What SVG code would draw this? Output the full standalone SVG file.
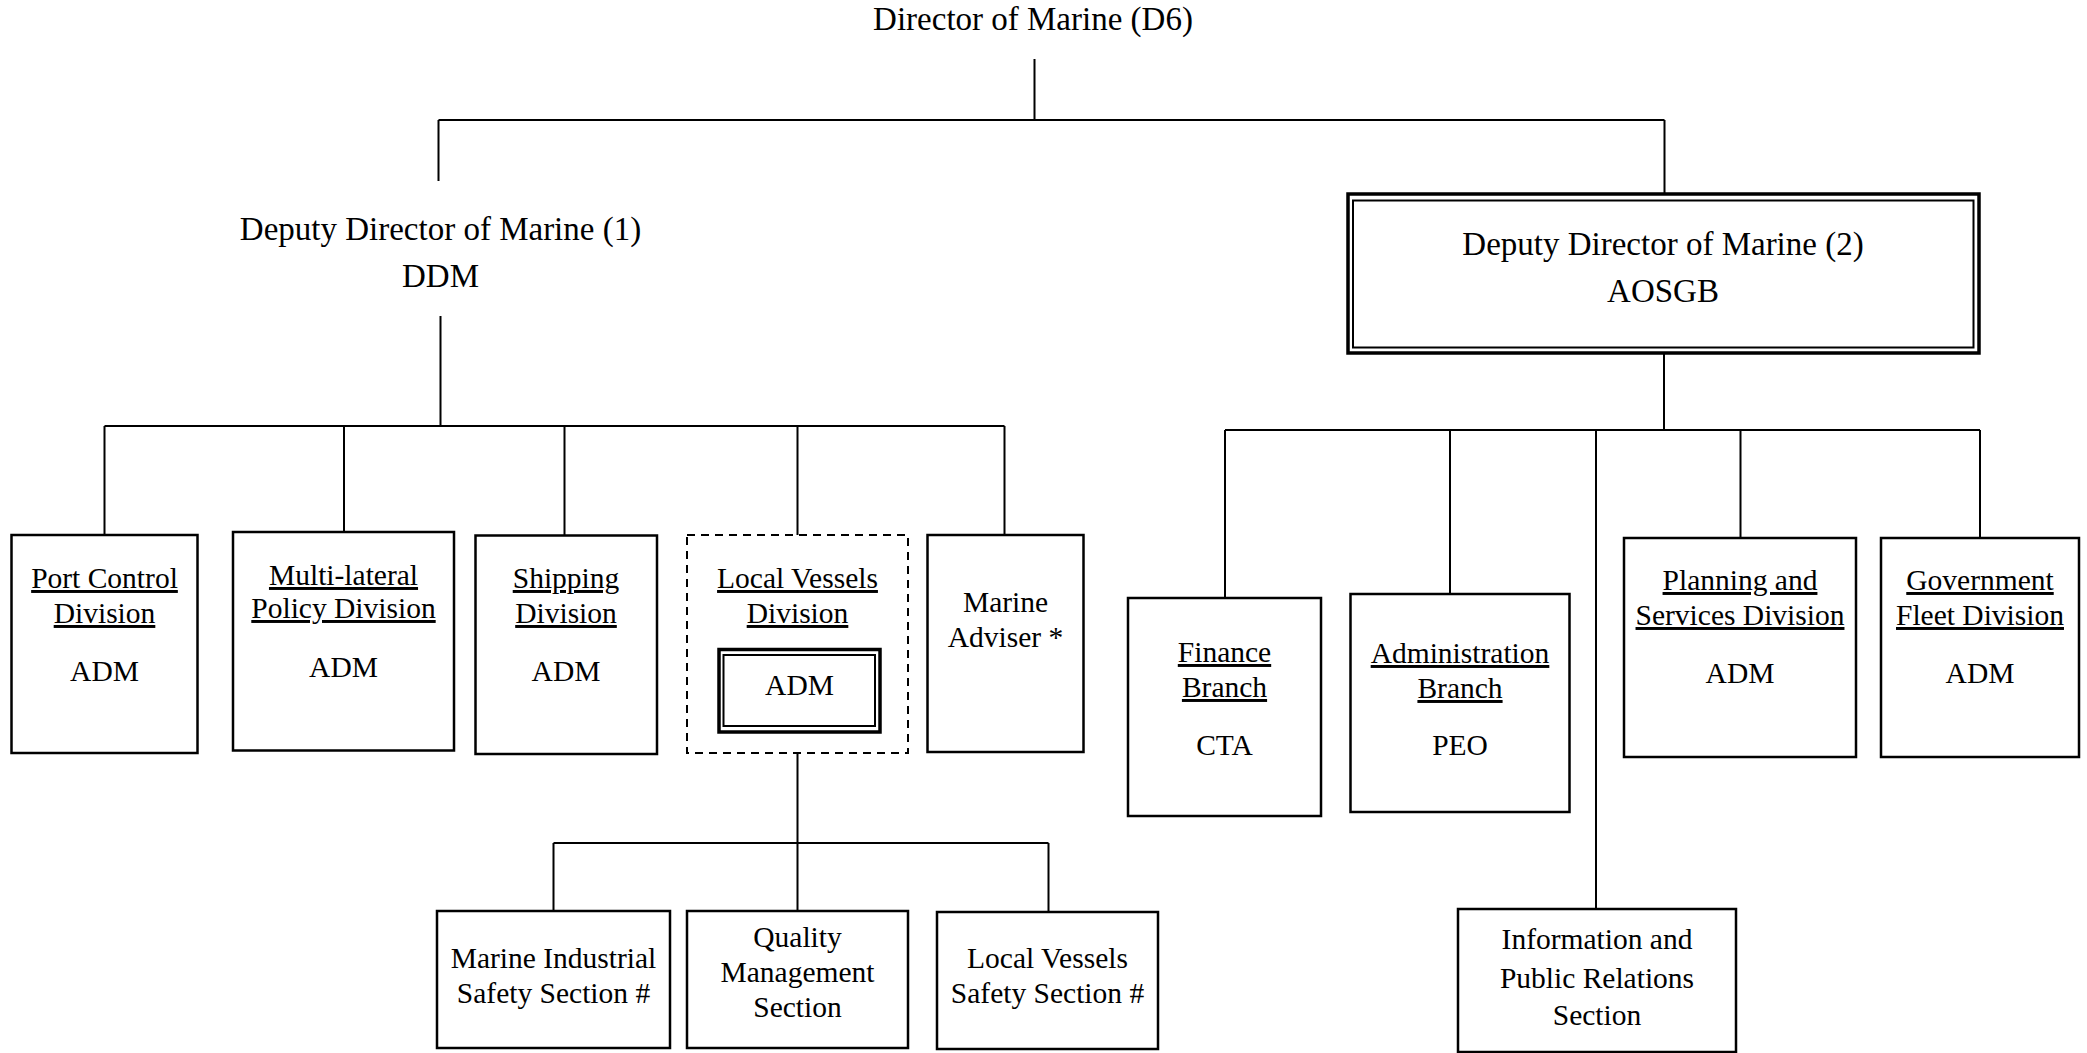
<svg xmlns="http://www.w3.org/2000/svg" width="2087" height="1053" viewBox="0 0 2087 1053">
  <style>
    .t { font-family: "Liberation Serif", "Times New Roman", Times, "DejaVu Serif", serif; fill: #000; text-anchor: middle; }
    .h { font-size: 33px; }
    .b { font-size: 29.5px; }
    .u { text-decoration: underline; }
    .box { fill: #fff; stroke: #000; stroke-width: 2.5; }
    .dash { fill: #fff; stroke: #000; stroke-width: 2; stroke-dasharray: 8 6; }
    .outer { fill: #fff; stroke: #000; stroke-width: 3.5; }
    .inner { fill: none; stroke: #000; stroke-width: 2; }
    .ln { stroke: #000; stroke-width: 2; fill: none; }
  </style>
  <rect width="2087" height="1053" fill="#fff"/>

  <g id="connectors">
    <path class="ln" d="M1034.5 59V120M438.5 120H1664.5M438.5 120V181M1664.5 120V193"/>
    <path class="ln" d="M440.5 316V426M104.5 426H1004.5M104.5 426V535M344 426V532M564.5 426V535M797.5 426V535M1004.5 426V535"/>
    <path class="ln" d="M1664 353V430M1225 430H1980M1225 430V598M1450 430V594M1596 430V909M1740.5 430V538M1980 430V538"/>
    <path class="ln" d="M797.5 753V911M553.5 843H1048.5M553.5 843V911M1048.5 843V912"/>
  </g>

  <g id="director">
    <text class="t h" x="1033" y="30">Director of Marine (D6)</text>
  </g>

  <g id="ddm1">
    <text class="t h" x="440.5" y="240">Deputy Director of Marine (1)</text>
    <text class="t h" x="440.5" y="287">DDM</text>
  </g>

  <g id="ddm2">
    <rect class="outer" x="1348" y="194" width="631" height="159"/>
    <rect class="inner" x="1353" y="200.5" width="620.5" height="147"/>
    <text class="t h" x="1663" y="255">Deputy Director of Marine (2)</text>
    <text class="t h" x="1663" y="302">AOSGB</text>
  </g>

  <g id="port-control">
    <rect class="box" x="11.5" y="535" width="186" height="218"/>
    <text class="t b u" x="104.5" y="588">Port Control</text>
    <text class="t b u" x="104.5" y="623">Division</text>
    <text class="t b" x="104.5" y="681">ADM</text>
  </g>

  <g id="multilateral">
    <rect class="box" x="233" y="532" width="221" height="218.5"/>
    <text class="t b u" x="343.5" y="585">Multi-lateral</text>
    <text class="t b u" x="343.5" y="618">Policy Division</text>
    <text class="t b" x="343.5" y="677">ADM</text>
  </g>

  <g id="shipping">
    <rect class="box" x="475.5" y="535.5" width="181.5" height="218.5"/>
    <text class="t b u" x="566" y="588">Shipping</text>
    <text class="t b u" x="566" y="623">Division</text>
    <text class="t b" x="566" y="681">ADM</text>
  </g>

  <g id="local-vessels">
    <rect class="dash" x="687" y="535" width="221" height="218"/>
    <text class="t b u" x="797.5" y="588">Local Vessels</text>
    <text class="t b u" x="797.5" y="623">Division</text>
    <rect class="outer" x="719" y="649.5" width="161" height="82.5"/>
    <rect class="inner" x="723.5" y="655" width="151.5" height="71"/>
    <text class="t b" x="799.5" y="695">ADM</text>
  </g>

  <g id="marine-adviser">
    <rect class="box" x="927.5" y="535" width="156" height="217"/>
    <text class="t b" x="1005.5" y="612">Marine</text>
    <text class="t b" x="1005.5" y="647">Adviser *</text>
  </g>

  <g id="finance">
    <rect class="box" x="1128" y="598" width="193" height="218"/>
    <text class="t b u" x="1224.5" y="662">Finance</text>
    <text class="t b u" x="1224.5" y="697">Branch</text>
    <text class="t b" x="1224.5" y="755">CTA</text>
  </g>

  <g id="administration">
    <rect class="box" x="1350.5" y="594" width="219" height="218"/>
    <text class="t b u" x="1460" y="663">Administration</text>
    <text class="t b u" x="1460" y="698">Branch</text>
    <text class="t b" x="1460" y="755">PEO</text>
  </g>

  <g id="planning">
    <rect class="box" x="1624" y="538" width="232" height="219"/>
    <text class="t b u" x="1740" y="590">Planning and</text>
    <text class="t b u" x="1740" y="625">Services Division</text>
    <text class="t b" x="1740" y="683">ADM</text>
  </g>

  <g id="government-fleet">
    <rect class="box" x="1881" y="538" width="198" height="219"/>
    <text class="t b u" x="1980" y="590">Government</text>
    <text class="t b u" x="1980" y="625">Fleet Division</text>
    <text class="t b" x="1980" y="683">ADM</text>
  </g>

  <g id="information">
    <rect class="box" x="1458" y="909" width="278" height="143"/>
    <text class="t b" x="1597" y="949">Information and</text>
    <text class="t b" x="1597" y="988">Public Relations</text>
    <text class="t b" x="1597" y="1025">Section</text>
  </g>

  <g id="marine-industrial">
    <rect class="box" x="437" y="911" width="233" height="137"/>
    <text class="t b" x="553.5" y="968">Marine Industrial</text>
    <text class="t b" x="553.5" y="1003">Safety Section #</text>
  </g>

  <g id="quality">
    <rect class="box" x="687" y="911" width="221" height="137"/>
    <text class="t b" x="797.5" y="947">Quality</text>
    <text class="t b" x="797.5" y="982">Management</text>
    <text class="t b" x="797.5" y="1017">Section</text>
  </g>

  <g id="lv-safety">
    <rect class="box" x="937" y="912" width="221" height="137"/>
    <text class="t b" x="1047.5" y="968">Local Vessels</text>
    <text class="t b" x="1047.5" y="1003">Safety Section #</text>
  </g>
</svg>
